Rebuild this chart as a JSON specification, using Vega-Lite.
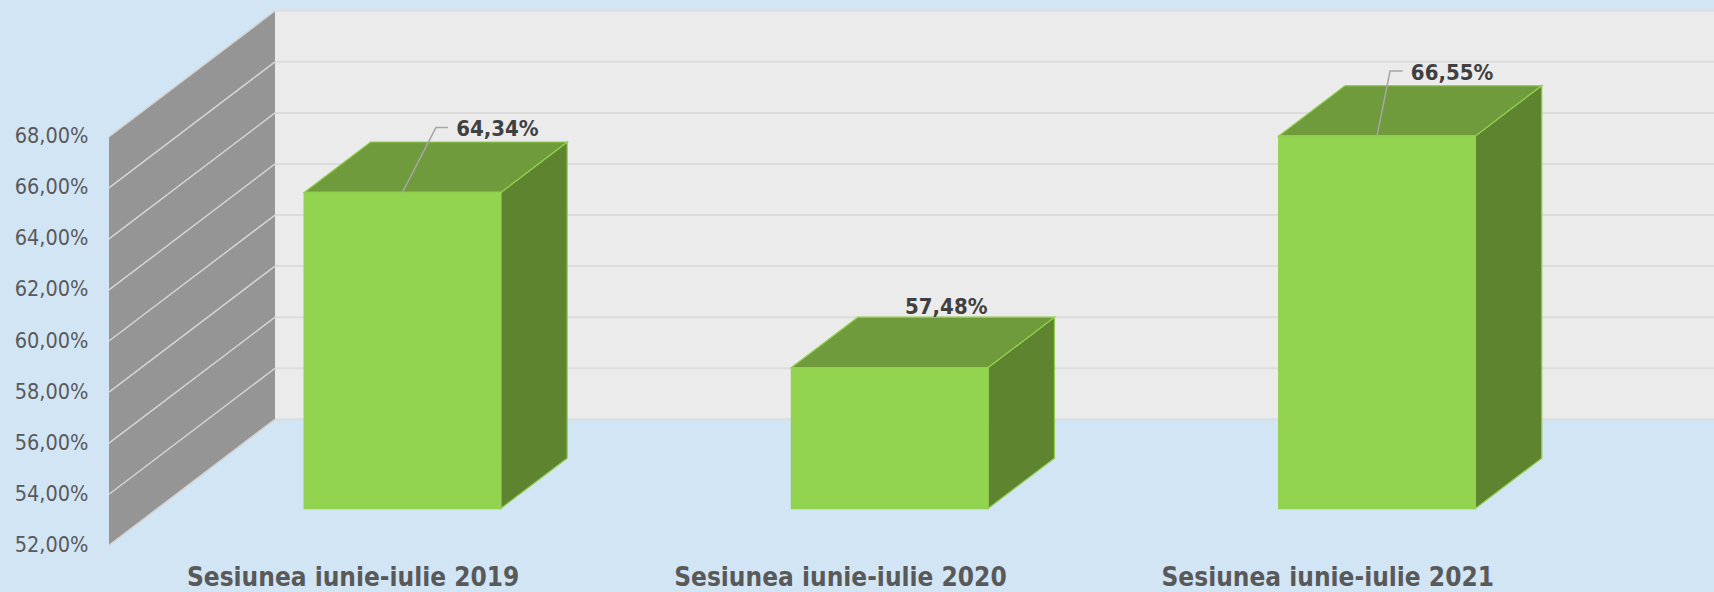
{
"$schema":"https://vega.github.io/schema/vega-lite/v6.json",
"width":1605,"height":555,
"padding":{"left":109,"top":0,"right":0,"bottom":37},
"autosize":{"type":"none"},
"background":"#D2E5F5",
"config":{"view":{"stroke":null},"text":{"font":"DejaVu Sans Condensed"}},
"datasets":{
"sessions":[{"session":"Sesiunea iunie-iulie 2019","value":64.34},{"session":"Sesiunea iunie-iulie 2020","value":57.48},{"session":"Sesiunea iunie-iulie 2021","value":66.55}],
"ticks":[{"tick":52},{"tick":54},{"tick":56},{"tick":58},{"tick":60},{"tick":62},{"tick":64},{"tick":66},{"tick":68}],
"wall":[{"low":52,"high":68}]
},
"layer":[
{"data":{"name":"wall"},
"transform":[{"calculate":"datum.low+4.934","as":"y0"},{"calculate":"datum.high+4.934","as":"y1"}],
"mark":{"type":"rect","fill":"#EBEBEB"},
"encoding":{
"x":{"datum":0.3407,"type":"quantitative","scale":{"domain":[0,3.2937],"nice":false,"zero":false},"axis":{"values":[0.5,1.5,2.5],"title":null,"domain":false,"ticks":false,"grid":false,"labelPadding":9,"labelLimit":600,"labelFont":"DejaVu Sans Condensed","labelFontWeight":"bold","labelFontSize":26,"labelColor":"#595959","labelExpr":"['Sesiunea iunie-iulie 2019','Sesiunea iunie-iulie 2020','Sesiunea iunie-iulie 2021'][datum.value-0.5]"}},
"x2":{"datum":3.2937},
"y":{"field":"y0","type":"quantitative","scale":{"domain":[51.62,73.355],"nice":false,"zero":false},"axis":{"values":[52,54,56,58,60,62,64,66,68],"title":null,"domain":false,"ticks":false,"grid":false,"labelPadding":21,"labelFont":"DejaVu Sans Condensed","labelFontSize":21.5,"labelColor":"#595959","labelExpr":"replace(format(datum.value,'.2f'),'.',',')+'%'"}},
"y2":{"field":"y1"}
}},
{"data":{"name":"wall"},
"transform":[{"calculate":"0","as":"front"},{"calculate":"1","as":"back"},{"fold":["front","back"],"as":["edge","d"]},{"calculate":"datum.d*0.3407","as":"x"},{"calculate":"datum.low+datum.d*4.934","as":"y0"},{"calculate":"datum.high+datum.d*4.934","as":"y1"}],
"mark":{"type":"area","orient":"vertical","fill":"#959595"},
"encoding":{
"x":{"field":"x","type":"quantitative","scale":{"domain":[0,3.2937],"nice":false,"zero":false}},
"y":{"field":"y0","type":"quantitative","scale":{"domain":[51.62,73.355],"nice":false,"zero":false}},
"y2":{"field":"y1"}
}},
{"data":{"name":"ticks"},
"transform":[{"calculate":"datum.tick+4.934","as":"yb"}],
"mark":{"type":"rule","stroke":"#DCDCDC","strokeWidth":2},
"encoding":{
"x":{"datum":0.3407,"type":"quantitative","scale":{"domain":[0,3.2937],"nice":false,"zero":false}},
"x2":{"datum":3.2937},
"y":{"field":"yb","type":"quantitative","scale":{"domain":[51.62,73.355],"nice":false,"zero":false}}
}},
{"data":{"name":"ticks"},
"transform":[{"calculate":"datum.tick+4.934","as":"yb"}],
"mark":{"type":"rule","stroke":"#D4D4D4","strokeWidth":1.5},
"encoding":{
"x":{"datum":0,"type":"quantitative","scale":{"domain":[0,3.2937],"nice":false,"zero":false}},
"x2":{"datum":0.3407},
"y":{"field":"tick","type":"quantitative","scale":{"domain":[51.62,73.355],"nice":false,"zero":false}},
"y2":{"field":"yb"}
}},
{"data":{"name":"sessions"},
"transform":[{"window":[{"op":"row_number","as":"n"}]},{"calculate":"0.3","as":"near"},{"calculate":"0.7","as":"far"},{"fold":["near","far"],"as":["edge","d"]},{"calculate":"datum.n-0.5+0.2018+datum.d*0.3407","as":"x"},{"calculate":"datum.value+datum.d*4.934","as":"y0"},{"calculate":"51.96+datum.d*4.934","as":"y1"}],
"mark":{"type":"area","orient":"vertical","fill":"#5E8430","stroke":"#92D050","strokeWidth":1.2},
"encoding":{
"x":{"field":"x","type":"quantitative","scale":{"domain":[0,3.2937],"nice":false,"zero":false}},
"y":{"field":"y0","type":"quantitative","scale":{"domain":[51.62,73.355],"nice":false,"zero":false}},
"y2":{"field":"y1"},
"detail":{"field":"session"}
}},
{"data":{"name":"sessions"},
"transform":[{"window":[{"op":"row_number","as":"n"}]},{"calculate":"datum.n-0.5-0.2018+0.1022","as":"c1"},{"calculate":"datum.n-0.5-0.2018+0.2385","as":"c2"},{"calculate":"datum.n-0.5+0.2018+0.1022","as":"c3"},{"calculate":"datum.n-0.5+0.2018+0.2385","as":"c4"},{"fold":["c1","c2","c3","c4"],"as":["corner","x"]},{"calculate":"datum.corner=='c1'?datum.value+1.48:datum.value+3.454","as":"y0"},{"calculate":"datum.corner=='c4'?datum.value+3.454:datum.value+1.48","as":"y1"}],
"mark":{"type":"area","orient":"vertical","fill":"#6F9B3C","stroke":"#92D050","strokeWidth":1.2},
"encoding":{
"x":{"field":"x","type":"quantitative","scale":{"domain":[0,3.2937],"nice":false,"zero":false}},
"y":{"field":"y0","type":"quantitative","scale":{"domain":[51.62,73.355],"nice":false,"zero":false}},
"y2":{"field":"y1"},
"detail":{"field":"session"}
}},
{"data":{"name":"sessions"},
"transform":[{"window":[{"op":"row_number","as":"n"}]},{"calculate":"datum.n-0.5-0.2018+0.1022","as":"x0"},{"calculate":"datum.n-0.5+0.2018+0.1022","as":"x1"},{"calculate":"datum.value+1.48","as":"y0"},{"calculate":"51.96+1.48","as":"y1"}],
"mark":{"type":"rect","fill":"#92D350","stroke":"#92D050","strokeWidth":1.2},
"encoding":{
"x":{"field":"x0","type":"quantitative","scale":{"domain":[0,3.2937],"nice":false,"zero":false}},
"x2":{"field":"x1"},
"y":{"field":"y0","type":"quantitative","scale":{"domain":[51.62,73.355],"nice":false,"zero":false}},
"y2":{"field":"y1"}
}},
{"data":{"name":"sessions"},
"transform":[{"window":[{"op":"row_number","as":"n"}]},{"filter":"datum.n!=2"},{"calculate":"datum.n-0.5+0.1022","as":"p0"},{"calculate":"datum.p0+(datum.n==1?0.0687:0.0267)","as":"p1"},{"calculate":"datum.p0+(datum.n==1?0.0934:0.0527)","as":"p2"},{"fold":["p0","p1","p2"],"as":["point","x"]},{"calculate":"datum.point=='p0'?datum.value+1.48:datum.value+4.02","as":"y"}],
"mark":{"type":"line","stroke":"#A6A6A6","strokeWidth":1.5,"interpolate":"linear"},
"encoding":{
"x":{"field":"x","type":"quantitative","scale":{"domain":[0,3.2937],"nice":false,"zero":false}},
"y":{"field":"y","type":"quantitative","scale":{"domain":[51.62,73.355],"nice":false,"zero":false}},
"detail":{"field":"session"}
}},
{"data":{"name":"sessions"},
"transform":[{"window":[{"op":"row_number","as":"n"}]},{"calculate":"datum.n-0.5+0.1022+[0.195,0.116,0.154][datum.n-1]","as":"x"},{"calculate":"datum.value+1.48+[2.47,2.37,2.47][datum.n-1]","as":"y"},{"calculate":"replace(format(datum.value,'.2f'),'.',',')+'%'","as":"label"}],
"mark":{"type":"text","align":"center","baseline":"middle","font":"DejaVu Sans Condensed","fontWeight":"bold","fontSize":22,"fill":"#404040"},
"encoding":{
"x":{"field":"x","type":"quantitative","scale":{"domain":[0,3.2937],"nice":false,"zero":false}},
"y":{"field":"y","type":"quantitative","scale":{"domain":[51.62,73.355],"nice":false,"zero":false}},
"text":{"field":"label"}
}}
]
}
